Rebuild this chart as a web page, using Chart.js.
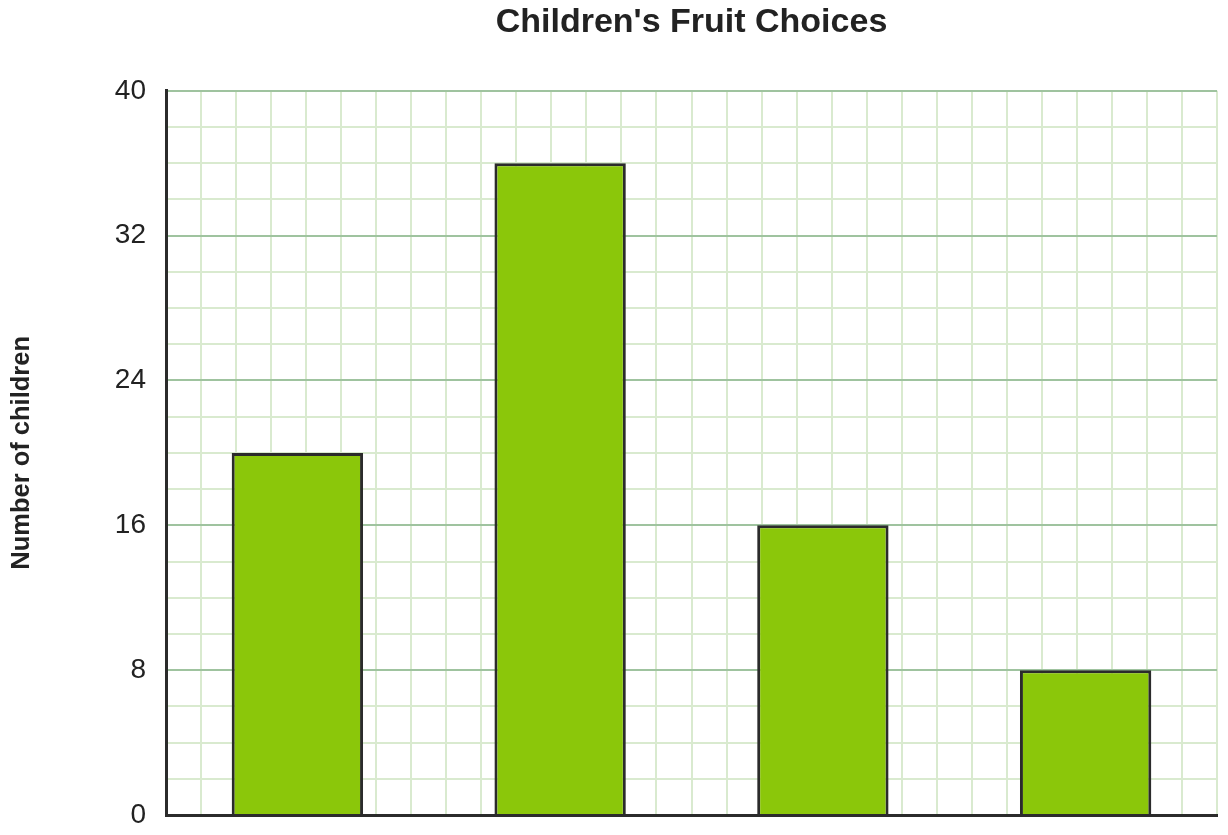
<!DOCTYPE html>
<html>
<head>
<meta charset="utf-8">
<script src="https://cdn.jsdelivr.net/npm/chart.js@4/dist/chart.umd.min.js"></script>
<style>
  body { margin: 0; background: #fff; }
  #wrap { width: 1228px; height: 835px; }
</style>
</head>
<body>
<div id="wrap"><canvas id="fruit-chart"></canvas></div>
<script>
// categories are not labelled in the picture
var categories = ['Fruit 1', 'Fruit 2', 'Fruit 3', 'Fruit 4'];
var childCounts = [20, 36, 16, 8];
var yTickLabels = [0, 8, 16, 24, 32, 40];

var minorGrid = '#d9eacf';
var majorGrid = '#9fc39f';
var axisDark = '#2b2b2b';
var textDark = '#222222';

var ctx = document.getElementById('fruit-chart').getContext('2d');
var chart = new Chart(ctx, {
  type: 'bar',
  data: {
    labels: categories,
    datasets: [{
      label: 'Number of children',
      data: childCounts,
      backgroundColor: '#8bc70a',
      borderColor: axisDark,
      borderWidth: 3,
      barPercentage: 0.5,
      categoryPercentage: 1.0
    }]
  },
  options: {
    responsive: true,
    maintainAspectRatio: false,
    animation: false,
    layout: { padding: { left: 0, right: 11, top: 0, bottom: 0 } },
    plugins: {
      legend: { display: false },
      tooltip: { enabled: false },
      title: {
        display: true,
        fullSize: false,
        text: "Children's Fruit Choices",
        color: textDark,
        font: { family: 'Liberation Sans, Arial, sans-serif', size: 34, weight: 'bold' },
        padding: { top: 2, bottom: 48 }
      }
    },
    scales: {
      x: {
        display: false
      },
      x2: {
        type: 'linear',
        position: 'bottom',
        min: 0,
        max: 29,
        ticks: { stepSize: 1, display: false, autoSkip: false },
        grid: {
          drawTicks: false,
          lineWidth: 2,
          color: function (c) { return c.tick && c.tick.value === 0 ? 'rgba(0,0,0,0)' : minorGrid; }
        },
        border: { color: axisDark, width: 3 },
        afterFit: function (s) { s.height = 20; s.paddingLeft = 0; s.paddingRight = 0; }
      },
      y: {
        min: 0,
        max: 40,
        ticks: {
          stepSize: 2,
          autoSkip: false,
          padding: 20,
          color: textDark,
          font: { family: 'Liberation Sans, Arial, sans-serif', size: 28 },
          callback: function (v) { return yTickLabels.indexOf(v) >= 0 ? v : ''; }
        },
        grid: {
          drawTicks: false,
          lineWidth: 2,
          color: function (c) {
            if (!c.tick || c.tick.value === 0) return 'rgba(0,0,0,0)';
            return c.tick.value % 8 === 0 ? majorGrid : minorGrid;
          }
        },
        border: { color: axisDark, width: 3 },
        title: {
          display: true,
          text: 'Number of children',
          color: textDark,
          font: { family: 'Liberation Sans, Arial, sans-serif', size: 25.5, weight: 'bold' },
          padding: { top: 7, bottom: 4 }
        },
        afterFit: function (s) { s.width = 166; s.paddingTop = 0; s.paddingBottom = 0; }
      }
    }
  }
});
</script>
</body>
</html>
